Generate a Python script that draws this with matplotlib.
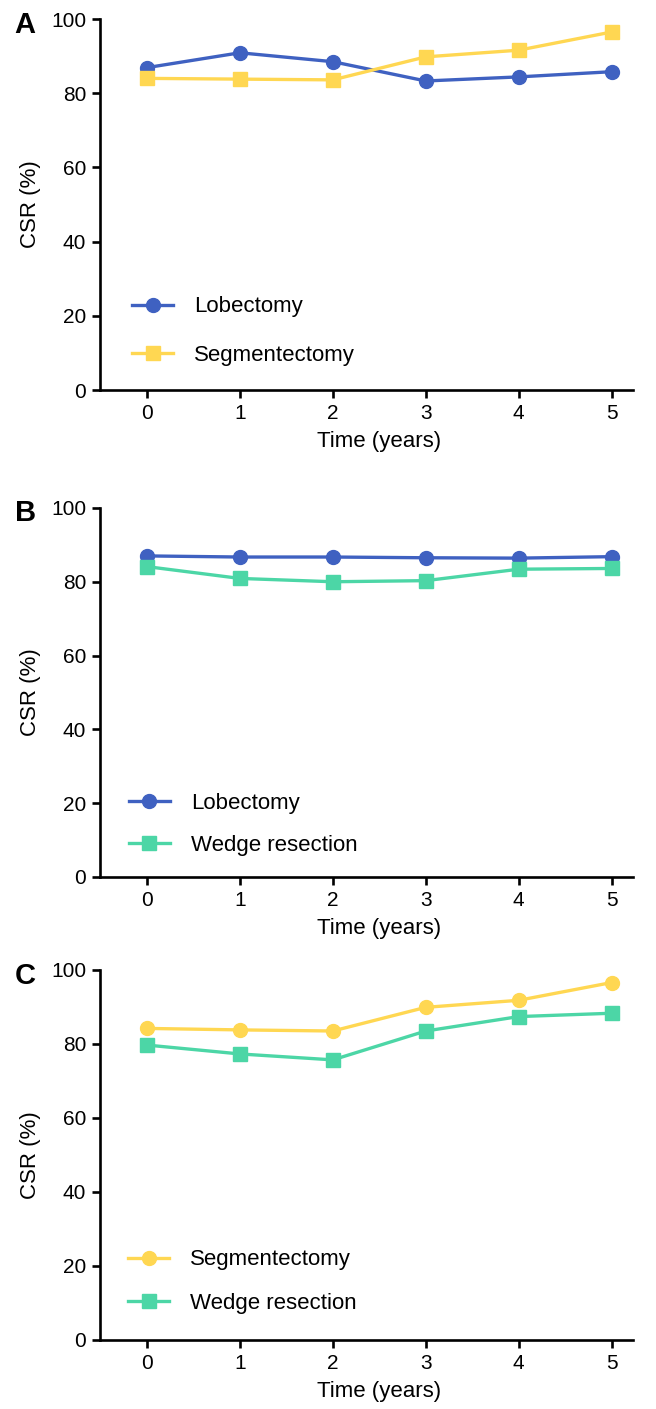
import matplotlib
matplotlib.use("Agg")
import matplotlib.pyplot as plt

plt.rcParams['font.family'] = ['Liberation Sans', 'DejaVu Sans']

years = [0, 1, 2, 3, 4, 5]
a_lob = [86.9, 90.9, 88.5, 83.3, 84.4, 85.8]
a_seg = [84.0, 83.8, 83.6, 89.8, 91.6, 96.5]
b_lob = [87.0, 86.7, 86.7, 86.5, 86.4, 86.8]
b_wedge = [84.1, 80.9, 80.0, 80.3, 83.4, 83.6]
c_seg = [84.2, 83.8, 83.5, 89.9, 91.8, 96.6]
c_wedge = [79.7, 77.3, 75.7, 83.5, 87.4, 88.3]
yticks = [0, 20, 40, 60, 80, 100]

BLUE = '#3F61C1'
YELLOW = '#FFD752'
GREEN = '#4CD6A6'
FS = 15
LFS = 16

fig = plt.figure(figsize=(6.56, 14.09), dpi=100)

panels = [
    dict(letter='A', rect=(0.1524, 0.7232, 0.8126, 0.2633),
         series=[(a_lob, 'Lobectomy', BLUE, 'o'), (a_seg, 'Segmentectomy', YELLOW, 's')],
         leg=(0.06, 0.159), spacing=1.22),
    dict(letter='B', rect=(0.1524, 0.3776, 0.8126, 0.2619),
         series=[(b_lob, 'Lobectomy', BLUE, 'o'), (b_wedge, 'Wedge resection', GREEN, 's')],
         leg=(0.054, 0.143), spacing=0.95),
    dict(letter='C', rect=(0.1524, 0.0490, 0.8126, 0.2626),
         series=[(c_seg, 'Segmentectomy', YELLOW, 'o'), (c_wedge, 'Wedge resection', GREEN, 's')],
         leg=(0.053, 0.158), spacing=1.0),
]

for p in panels:
    ax = fig.add_axes(p['rect'])
    for vals, lab, col, mk in p['series']:
        ax.plot(years, vals, color=col, marker=mk, markersize=10 if mk == 'o' else 9.5,
                linewidth=2.4, label=lab, clip_on=False)
    ax.set_xlim(-0.505, 5.23)
    ax.set_ylim(0, 100)
    ax.set_yticks(yticks)
    ax.set_xticks(years)
    for s in ['top', 'right']:
        ax.spines[s].set_visible(False)
    for s in ['left', 'bottom']:
        ax.spines[s].set_linewidth(1.9)
    ax.tick_params(axis='both', width=1.9, length=6, labelsize=FS, pad=4)
    ax.set_ylabel('CSR (%)', fontsize=LFS, labelpad=7)
    ax.set_xlabel('Time (years)', fontsize=LFS, labelpad=6, x=0.524)
    ax.legend(loc='center left', bbox_to_anchor=p['leg'], frameon=False,
              fontsize=LFS, handlelength=1.85, handletextpad=0.95,
              labelspacing=p['spacing'], borderpad=0, borderaxespad=0)
    ax.text(-0.16, 0.985, p['letter'], transform=ax.transAxes, fontsize=21,
            fontweight='bold', ha='left', va='center')

fig.savefig('out.png', dpi=100)
